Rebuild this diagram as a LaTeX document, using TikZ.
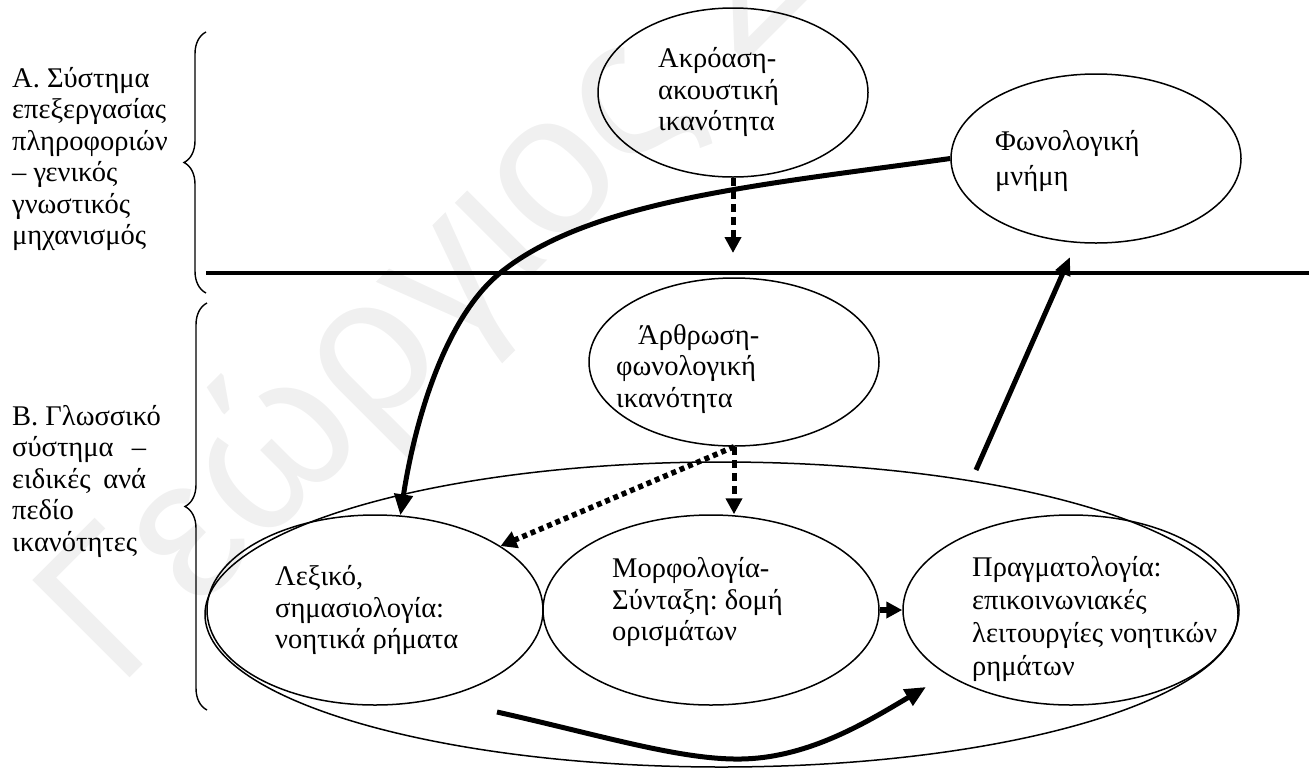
\documentclass[tikz,border=0pt]{standalone}
\usepackage{fontspec}
\setmainfont{Liberation Serif}
\newfontfamily\wmfont{Liberation Sans}
\usetikzlibrary{arrows.meta,shapes.geometric,decorations.pathreplacing}
\frenchspacing
\begin{document}
\begin{tikzpicture}[x=1pt,y=-1pt,
  oval/.style={draw, ellipse, line width=1.5pt, inner sep=0pt},
  txt/.style={align=left, inner sep=0pt, anchor=west, font=\fontsize{28.5}{31.5}\selectfont},
  heavy/.style={line width=5pt, -{Triangle[length=21pt,width=18pt]}},
  dashedarrow/.style={line width=5pt, dash pattern=on 8pt off 5pt, -{Triangle[length=16pt,width=16pt]}},
  dottedarrow/.style={line width=5.5pt, dash pattern=on 5pt off 4pt, -{Triangle[length=16pt,width=17pt]}},
  bracket/.style={line width=1.4pt, decorate, decoration={brace, amplitude=22pt}}]
\useasboundingbox (0,0) rectangle (1309,769);

% faint watermark behind everything
\node[font=\wmfont\fontsize{200}{200}\selectfont, text=black!6, rotate=45,
      anchor=base west, inner sep=0pt] (wm) at (118,690) {Γεώργιος Σ};

% side labels and braces
\node[txt] (labA) at (12,159) {Α. Σύστημα\\επεξεργασίας\\πληροφοριών\\– γενικός\\γνωστικός\\μηχανισμός};
\node[txt] (labB) at (12,481) {Β. Γλωσσικό\\\hbox to 134pt{σύστημα\hfill –}\\\hbox to 134pt{ειδικές\hfill ανά}\\πεδίο\\ικανότητες};
\coordinate (brAbot) at (206,293);
\coordinate (brAtop) at (206,32);
\coordinate (brBbot) at (207,710);
\coordinate (brBtop) at (207,303);
\draw[bracket] (brAbot) -- (brAtop);
\draw[bracket] (brBbot) -- (brBtop);

% dividing line between the two systems
\coordinate (hlL) at (206,273);
\coordinate (hlR) at (1309,273);
\draw[line width=4pt] (hlL) -- (hlR);

% ellipses
\node[oval, minimum width=270pt, minimum height=169pt] (akr) at (733,92.5) {};
\node[oval, minimum width=290pt, minimum height=169pt] (fon) at (1096,158.5) {};
\node[oval, minimum width=290pt, minimum height=168pt] (art) at (734,362) {};
\node[oval, minimum width=1033pt, minimum height=305pt] (big) at (721.5,614.5) {};
\node[oval, minimum width=336pt, minimum height=190pt] (lex) at (375,610) {};
\node[oval, minimum width=336pt, minimum height=190pt] (mor) at (711,610) {};
\node[oval, minimum width=336pt, minimum height=190pt] (prag) at (1071,610) {};

% ellipse texts
\node[txt] (akrT) at (658,92) {Ακρόαση-\\ακουστική\\ικανότητα};
\node[txt, font=\fontsize{28.5}{35}\selectfont] (fonT) at (995,161) {Φωνολογική\\μνήμη};
\node[txt] (artT) at (616,369) {\hspace{22pt}Άρθρωση-\\φωνολογική\\ικανότητα};
\node[txt] (lexT) at (275,610) {Λεξικό,\\σημασιολογία:\\νοητικά ρήματα};
\node[txt] (morT) at (612,602) {Μορφολογία-\\Σύνταξη: δομή\\ορισμάτων};
\node[txt, font=\fontsize{28.5}{33}\selectfont] (pragT) at (972,619) {Πραγματολογία:\\επικοινωνιακές\\λειτουργίες νοητικών\\ρημάτων};

% connectors
\coordinate (akrEnd) at (733,253);
\draw[dashedarrow] (akr.south) -- (akr.south |- akrEnd);

\draw[heavy] (fon.west) .. controls (760,185) and (590,200) .. (500,273)
                        .. controls (445,318) and (415,420) .. (lex.75);

\draw[dottedarrow] (art.south) -- (lex.27);
\draw[dashedarrow] (art.south) -- (art.south |- mor.north);

\draw[line width=6pt, -{Triangle[length=16pt,width=16pt]}] (mor.east) -- (prag.west);

\coordinate (upTail) at (976,470);
\coordinate (upTip) at (1070,257);
\draw[line width=5pt, -{Triangle[length=18pt,width=15pt]}] (upTail) -- (upTip);

\coordinate (loStart) at (497,712);
\coordinate (loEnd) at (926,687);
\draw[heavy] (loStart) .. controls (600,735) and (680,760) .. (741,759)
                       .. controls (810,758) and (870,720) .. (loEnd);
\end{tikzpicture}
\end{document}
